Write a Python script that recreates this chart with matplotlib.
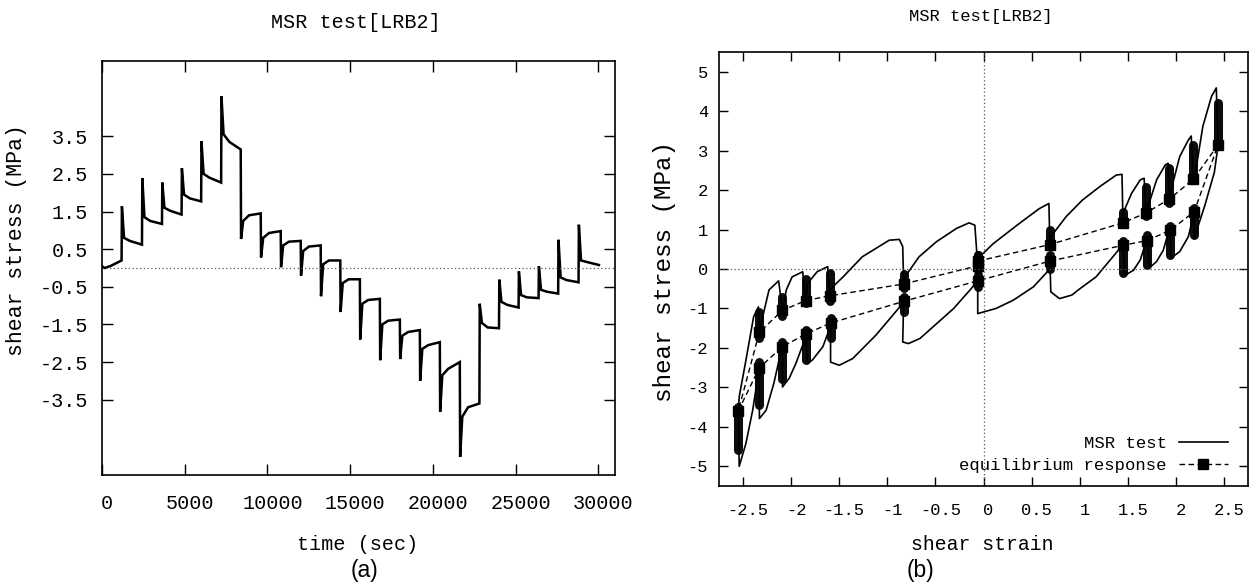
import matplotlib
matplotlib.use('Agg')
import matplotlib.pyplot as plt
import matplotlib.transforms as mtransforms
from matplotlib.lines import Line2D

plt.rcParams['font.family'] = ['Liberation Mono', 'DejaVu Sans Mono']
plt.rcParams['axes.unicode_minus'] = False

# ---- shared data: 25 relaxation holds (MSR test, LRB2) ----
# start time of each step (sec), test ends at T_END
seg_t = [0, 1183, 2416, 3624, 4808, 5991, 7199, 8383, 9591, 10799, 12007, 13215,
         14398, 15582, 16790, 17998, 19206, 20414, 21622, 22806, 23989, 25173,
         26381, 27565, 28797]
T_END = 30030
# stress at the end of the ramp (spike), shortly after, mid hold, end of hold
peak = [0.04, 1.64, 2.39, 2.27, 2.65, 3.37, 4.56, 0.77, 0.28, 0.02, -0.2, -0.75,
        -1.17, -1.9, -2.45, -2.42, -3.0, -3.82, -5.02, -0.95, -0.31, -0.09, 0.04,
        0.75, 1.15]
lvl_a = [0.0, 0.8, 1.35, 1.6, 1.95, 2.5, 3.55, 1.25, 0.8, 0.6, 0.45, 0.1, -0.4,
         -0.95, -1.5, -1.8, -2.15, -2.85, -3.95, -1.46, -0.9, -0.72, -0.58, -0.25,
         0.2]
lvl_b = [0.05, 0.72, 1.25, 1.52, 1.85, 2.4, 3.35, 1.4, 0.93, 0.7, 0.57, 0.2, -0.3,
         -0.85, -1.4, -1.7, -2.05, -2.68, -3.7, -1.58, -0.98, -0.78, -0.63, -0.32,
         0.16]
eq = [0.2, 0.62, 1.17, 1.42, 1.77, 2.27, 3.15, 1.45, 0.98, 0.72, 0.6, 0.2, -0.3,
      -0.82, -1.37, -1.65, -1.97, -2.5, -3.6, -1.6, -1.05, -0.8, -0.68, -0.38, 0.08]
# shear strain of each hold
hold_strain = [-0.06, 0.69, 1.45, 1.69, 1.93, 2.18, 2.44, 2.19, 1.94, 1.70, 1.45,
               0.69, -0.06, -0.83, -1.59, -1.85, -2.09, -2.33, -2.55, -2.33, -2.09,
               -1.85, -1.60, -0.83, -0.06]
# stress range of the noisy cluster during each hold
fuzz_lo = [0.0, 0.58, 1.13, 1.35, 1.68, 2.35, 3.15, 0.85, 0.35, 0.1, -0.1, 0.0,
           -0.45, -1.1, -1.75, -2.3, -2.8, -3.45, -4.6, -1.75, -1.2, -0.87, -0.8,
           -0.48, -0.02]
fuzz_hi = [0.35, 1.0, 1.45, 2.08, 2.55, 3.15, 4.2, 1.55, 1.1, 0.85, 0.72, 0.35,
           -0.15, -0.7, -1.25, -1.55, -1.85, -2.35, -3.5, -1.1, -0.7, -0.25, -0.1,
           -0.12, 0.35]
# stress-strain path during the ramp into each hold (ends at the peak)
ramp_strain = [
    [-0.06],
    [-0.04, 0.10, 0.37, 0.58, 0.68],
    [0.70, 0.86, 1.03, 1.21, 1.38, 1.44],
    [1.45, 1.54, 1.63, 1.67],
    [1.71, 1.80, 1.89, 1.92],
    [1.95, 2.04, 2.13, 2.16],
    [2.20, 2.28, 2.37, 2.42],
    [2.40, 2.30, 2.22, 2.19],
    [2.18, 2.13, 2.04, 1.95],
    [1.92, 1.87, 1.80, 1.73],
    [1.68, 1.63, 1.56, 1.47],
    [1.40, 1.17, 0.98, 0.92, 0.79, 0.70],
    [0.69, 0.52, 0.31, 0.13, -0.06],
    [-0.10, -0.31, -0.66, -0.78, -0.84],
    [-0.87, -1.12, -1.36, -1.50, -1.59],
    [-1.60, -1.67, -1.78, -1.83],
    [-1.86, -1.95, -2.02, -2.09],
    [-2.11, -2.18, -2.26, -2.33],
    [-2.34, -2.40, -2.47, -2.54],
    [-2.54, -2.47, -2.39, -2.34],
    [-2.32, -2.23, -2.13],
    [-2.05, -1.99, -1.88],
    [-1.83, -1.73, -1.62],
    [-1.60, -1.46, -1.26, -0.98, -0.875, -0.84],
    [-0.84, -0.67, -0.49, -0.28, -0.15, -0.09],
]
ramp_stress = [
    [0.0],
    [0.31, 0.64, 1.15, 1.53, 1.66],
    [0.82, 1.33, 1.75, 2.09, 2.38, 2.40],
    [1.41, 1.92, 2.26, 2.30],
    [1.58, 2.26, 2.64, 2.68],
    [2.0, 2.85, 3.27, 3.37],
    [2.39, 3.61, 4.37, 4.59],
    [2.45, 1.6, 1.0, 0.78],
    [1.33, 0.82, 0.44, 0.28],
    [0.91, 0.48, 0.19, 0.04],
    [0.61, 0.23, -0.03, -0.16],
    [0.47, -0.2, -0.54, -0.66, -0.75, -0.58],
    [0.0, -0.45, -0.79, -1.0, -1.13],
    [-0.42, -1.0, -1.76, -1.89, -1.85],
    [-0.96, -1.68, -2.27, -2.44, -2.36],
    [-1.51, -1.97, -2.31, -2.39],
    [-1.8, -2.39, -2.77, -2.99],
    [-2.14, -2.9, -3.58, -3.79],
    [-2.64, -3.58, -4.42, -5.0],
    [-3.24, -2.31, -1.21, -0.96],
    [-1.46, -0.53, -0.3],
    [-0.53, -0.2, -0.07],
    [-0.37, -0.07, 0.06],
    [-0.53, -0.2, 0.31, 0.73, 0.75, 0.57],
    [-0.28, 0.31, 0.69, 1.03, 1.17, 1.11],
]

RAMP_S, A_S, B_S = 20, 150, 500   # sample offsets within a step (sec)

W, H = 1251, 584
fig = plt.figure(figsize=(W / 100, H / 100), dpi=100)


def fx(x):
    return x / W


def fy(y):
    return 1 - y / H


ax1 = fig.add_axes([fx(102), fy(475), (615 - 102) / W, (475 - 61) / H])
ax2 = fig.add_axes([fx(719), fy(486), (1248 - 719) / W, (486 - 52) / H])

# ---- (a) stress history ----
t_path, s_path = [], []
ends = seg_t[1:] + [T_END]
for i, t0 in enumerate(seg_t):
    if i > 0:
        t_path.append(t0)
        s_path.append(eq[i - 1])
    t_path += [t0 + RAMP_S, t0 + A_S, t0 + B_S, ends[i]]
    s_path += [peak[i], lvl_a[i], lvl_b[i], eq[i]]
ax1.plot(t_path, s_path, color='black', lw=1.8, solid_joinstyle='miter')
ax1.axhline(0, color='0.35', lw=0.9, ls=(0, (1, 2)))
ax1.set_xlim(0, 31000)
ax1.set_ylim(-5.5, 5.5)
ax1.set_xticks([0, 5000, 10000, 15000, 20000, 25000, 30000])
ax1.set_yticks([-3.5, -2.5, -1.5, -0.5, 0.5, 1.5, 2.5, 3.5])
ax1.set_yticklabels(['-3.5', '-2.5', '-1.5', '-0.5', '0.5', '1.5', '2.5', '3.5'])
ax1.tick_params(direction='in', length=8, width=1, top=True, right=True,
                labelsize=14.5, color='black')
ax1.tick_params(axis='x', pad=14)
ax1.tick_params(axis='y', pad=10)

# ---- (b) hysteresis ----
x_path, y_path = [], []
for i in range(len(hold_strain)):
    x_path += ramp_strain[i] + [hold_strain[i]]
    y_path += ramp_stress[i] + [eq[i]]
for i in range(len(hold_strain)):
    ax2.plot([hold_strain[i], hold_strain[i]], [fuzz_lo[i], fuzz_hi[i]],
             color='black', lw=6.5, alpha=0.95, solid_capstyle='round')
ax2.plot(x_path, y_path, color='black', lw=1.2)
ax2.plot(hold_strain, eq, color='black', lw=1, ls=(0, (4, 2.5)),
         marker='s', ms=6.5)
ax2.axhline(0, color='0.35', lw=0.9, ls=(0, (1, 2)))
ax2.axvline(0, color='0.35', lw=0.9, ls=(0, (1, 2)))
ax2.set_xlim(-2.75, 2.75)
ax2.set_ylim(-5.5, 5.5)
ax2.set_xticks([-2.5, -2, -1.5, -1, -0.5, 0, 0.5, 1, 1.5, 2, 2.5])
ax2.set_xticklabels(['-2.5', '-2', '-1.5', '-1', '-0.5', '0', '0.5', '1', '1.5',
                     '2', '2.5'])
ax2.set_yticks(range(-5, 6))
ax2.tick_params(direction='in', length=6.5, width=1, top=True, right=True,
                labelsize=12.3, color='black')
ax2.tick_params(axis='x', pad=12)
ax2.tick_params(axis='y', pad=8)

handles = [Line2D([], [], color='black', lw=1.2),
           Line2D([], [], color='black', lw=1, ls=(0, (4, 2.5)), marker='s', ms=6.5)]
ax2.legend(handles, ['MSR test', 'equilibrium response'], loc='lower right',
           bbox_to_anchor=(0.962, 0.03), frameon=False, markerfirst=False,
           numpoints=1, fontsize=12.4, handlelength=2.85, handletextpad=0.7,
           borderaxespad=0, borderpad=0, labelspacing=0.4)

for ax in (ax1, ax2):
    for sp in ax.spines.values():
        sp.set_linewidth(1.2)
    shift = mtransforms.ScaledTranslation(5 / 100, 0, fig.dpi_scale_trans)
    for lab in ax.get_xticklabels():
        lab.set_transform(lab.get_transform() + shift)

fig.text(fx(356), fy(23), 'MSR test[LRB2]', ha='center', va='center', fontsize=14.5)
fig.text(fx(981), fy(17), 'MSR test[LRB2]', ha='center', va='center', fontsize=12.3)
fig.text(fx(358), fy(544), 'time (sec)', ha='center', va='center', fontsize=14.5)
fig.text(fx(982), fy(545), 'shear strain', ha='center', va='center', fontsize=14.2)
fig.text(fx(17), fy(240), 'shear stress (MPa)', ha='center', va='center',
         rotation=90, fontsize=15.5)
fig.text(fx(665), fy(272), 'shear stress (MPa)', ha='center', va='center',
         rotation=90, fontsize=17.5)
fig.text(fx(365), fy(570), '(a)', ha='center', va='center', fontsize=16.5,
         family='Liberation Sans')
fig.text(fx(921), fy(570), '(b)', ha='center', va='center', fontsize=16.5,
         family='Liberation Sans')

fig.savefig('out.png', dpi=100)
